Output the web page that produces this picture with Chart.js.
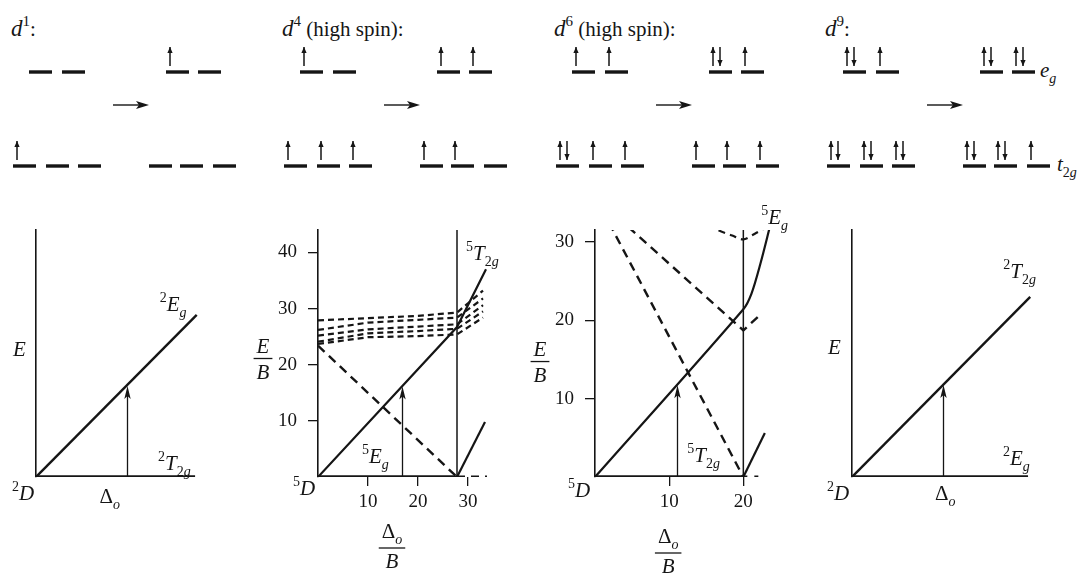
<!DOCTYPE html>
<html>
<head>
<meta charset="utf-8">
<title>Ligand-field transitions</title>
<script src="https://cdn.jsdelivr.net/npm/chart.js@4.4.0/dist/chart.umd.min.js"></script>
<style>
  html, body { margin: 0; padding: 0; background: #fff; }
  #page { position: relative; width: 1085px; height: 575px; overflow: hidden; }
  #page canvas, #page svg { position: absolute; left: 0; top: 0; }
</style>
</head>
<body>
<div id="page">
  <svg id="orbitals" width="1085" height="200"></svg>
  <canvas id="d1" width="1085" height="575"></canvas>
  <canvas id="d4" width="1085" height="575"></canvas>
  <canvas id="d6" width="1085" height="575"></canvas>
  <canvas id="d9" width="1085" height="575"></canvas>
</div>
<script>
// ---------------------------------------------------------------
// DATA
// orbital occupancy: 0 = empty, 1 = one spin up, 2 = paired
const d1EgGround = [0, 0], d1T2gGround = [1, 0, 0], d1EgExcited = [1, 0], d1T2gExcited = [0, 0, 0];
const d4EgGround = [1, 0], d4T2gGround = [1, 1, 1], d4EgExcited = [1, 1], d4T2gExcited = [1, 1, 0];
const d6EgGround = [1, 1], d6T2gGround = [2, 1, 1], d6EgExcited = [2, 1], d6T2gExcited = [1, 1, 1];
const d9EgGround = [2, 1], d9T2gGround = [2, 2, 2], d9EgExcited = [2, 2], d9T2gExcited = [2, 2, 1];
const electronCounts = ['1', '4', '6', '9'];
const spinNotes = ['', '(high spin)', '(high spin)', ''];

// d1 : energy vs Δo (no numeric scale)
const d1Ground = [[0, 0], [9.7, 0]];
const d1Upper = [[0, 0], [9.8, 6.56]];
const d1Transition = [5.55, 3.68];

// d4 high spin : E/B vs Δo/B
const d4Ground = [[0, 0], [27.8, 0]];
const d4GroundBeyond = [[27.8, 0], [33.8, 0]];
const d4Upper = [[0, 0], [27.8, 26.7], [33.6, 37]];
const d4Lowest = [[27.8, 0], [33.4, 9.8]];
const d4Falling = [[0, 23.4], [27.8, 0]];
const d4BandA = [[0, 27.9], [10, 28.3], [20, 28.7], [27.8, 29.3], [33, 33.2]];
const d4BandB = [[0, 26.2], [10, 27.5], [20, 28.0], [27.8, 28.4], [33, 31.8]];
const d4BandC = [[0, 25.2], [10, 26.3], [20, 26.8], [27.8, 27.2], [33, 30.6]];
const d4BandD = [[0, 24.1], [10, 25.6], [20, 26.0], [27.8, 26.4], [33, 29.5]];
const d4BandE = [[0, 23.7], [10, 24.9], [20, 25.1], [27.8, 25.4], [33, 28.4]];
const d4Critical = 27.8;
const d4Transition = [16.8, 16.1];
const d4XTicks = [10, 20, 30];
const d4YTicks = [10, 20, 30, 40];

// d6 high spin : E/B vs Δo/B
const d6Ground = [[0, 0], [20, 0]];
const d6GroundBeyond = [[20, 0], [22.2, 0]];
const d6Upper = [[0, 0], [20, 21.4], [21.1, 23.4], [22.3, 27.2], [23.6, 32]];
const d6Lowest = [[20, 0], [22.9, 5.6]];
const d6FallingA = [[0, 35.8], [20, 0]];
const d6FallingB = [[0, 35.7], [20, 18.7], [22.4, 20.8]];
const d6FallingC = [[14, 33.2], [16.6, 31.5], [18.5, 30.8], [20, 30.3], [21.5, 31], [23, 31.8]];
const d6Critical = 20;
const d6Transition = [11, 11.7];
const d6XTicks = [10, 20];
const d6YTicks = [10, 20, 30];

// d9 : energy vs Δo (no numeric scale)
const d9Ground = [[0, 0], [9.78, 0]];
const d9Upper = [[0, 0], [9.9, 7.29]];
const d9Transition = [5.06, 3.72];

// ---------------------------------------------------------------
// STYLE
const INK = '#151515';
const SERIF = '"Liberation Serif", "Times New Roman", Times, serif';
const BIG = 21;
const SMALL = 14;

// ---------------------------------------------------------------
// ORBITAL FILLING ROW (svg)
const SVGNS = 'http://www.w3.org/2000/svg';
const svg = document.getElementById('orbitals');
const panelShift = [0, 271, 543, 814];
const egGroundX = [29, 62], egExcitedX = [166, 198];
const t2gGroundX = [13, 46, 78], t2gExcitedX = [149, 180, 213];
const EG_Y = 72, T2G_Y = 166, SLOT_W = 23;
let layer = svg;

function el(tag, attrs, parent) {
  const n = document.createElementNS(SVGNS, tag);
  for (const k in attrs) n.setAttribute(k, attrs[k]);
  (parent || layer).appendChild(n);
  return n;
}

function span(parent, attrs, text) {
  const n = el('tspan', attrs, parent);
  n.textContent = text;
  return n;
}

function spin(x, yDash, up) {
  const top = yDash - 25, bottom = yDash - 6;
  el('line', { x1: x, y1: top, x2: x, y2: bottom, stroke: INK, 'stroke-width': 1.5 });
  const tip = up ? top : bottom;
  const s = up ? 1 : -1;
  el('polygon', { points: `${x - 2.6},${tip + 6 * s} ${x},${tip} ${x + 2.6},${tip + 6 * s}`, fill: INK });
}

function slots(xs, y, occ) {
  xs.forEach((x, i) => {
    el('rect', { x, y: y - 1.7, width: SLOT_W, height: 3.4, fill: INK });
    if (occ[i] === 1) spin(x + 4, y, true);
    if (occ[i] === 2) { spin(x + 4, y, true); spin(x + 11, y, false); }
  });
}

const fillings = [
  [d1EgGround, d1T2gGround, d1EgExcited, d1T2gExcited],
  [d4EgGround, d4T2gGround, d4EgExcited, d4T2gExcited],
  [d6EgGround, d6T2gGround, d6EgExcited, d6T2gExcited],
  [d9EgGround, d9T2gGround, d9EgExcited, d9T2gExcited],
];

fillings.forEach(([egG, t2gG, egE, t2gE], p) => {
  layer = el('g', { transform: `translate(${panelShift[p]},0)` }, svg);
  const t = el('text', { x: 11, y: 36, fill: INK, 'font-family': SERIF, 'font-size': 21 });
  span(t, { 'font-style': 'italic', 'font-size': 23 }, 'd');
  span(t, { dy: -10, 'font-size': 15 }, electronCounts[p]);
  span(t, { dy: 10 }, (spinNotes[p] ? '\u00a0' + spinNotes[p] : '') + ':');
  slots(egGroundX, EG_Y, egG);
  slots(t2gGroundX, T2G_Y, t2gG);
  slots(egExcitedX, EG_Y, egE);
  slots(t2gExcitedX, T2G_Y, t2gE);
  el('line', { x1: 113, y1: 105, x2: 139, y2: 105, stroke: INK, 'stroke-width': 1.4 });
  el('polygon', { points: '136,101 149,105 136,109 139,105', fill: INK });
  layer = svg;
});

// orbital set names on the right
const egName = el('text', { x: 1040, y: 77, fill: INK, 'font-family': SERIF, 'font-size': 21, 'font-style': 'italic' });
span(egName, {}, 'e');
span(egName, { dy: 6, 'font-size': 14 }, 'g');
const t2gName = el('text', { x: 1057, y: 171, fill: INK, 'font-family': SERIF, 'font-size': 21, 'font-style': 'italic' });
span(t2gName, {}, 't');
span(t2gName, { dy: 6, 'font-size': 14, 'font-style': 'normal' }, '2');
span(t2gName, { 'font-size': 14 }, 'g');

// ---------------------------------------------------------------
// TEXT HELPERS (canvas)
function rich(ctx, x, y, parts, dry) {
  let cx = x;
  parts.forEach(([txt, kind]) => {
    const small = kind.startsWith('sup') || kind.startsWith('sub');
    const italic = kind.endsWith('i');
    ctx.font = `${italic ? 'italic ' : ''}${small ? SMALL : BIG}px ${SERIF}`;
    const dy = kind.startsWith('sup') ? -9 : kind.startsWith('sub') ? 6 : 0;
    if (!dry) ctx.fillText(txt, cx, y + dy);
    cx += ctx.measureText(txt).width;
  });
  return cx - x;
}

function fraction(ctx, cx, barY, over, under, overDy) {
  const w1 = rich(ctx, 0, 0, over, true);
  const w2 = rich(ctx, 0, 0, under, true);
  const w = Math.max(w1, w2) + 6;
  rich(ctx, cx - w1 / 2, barY - (overDy || 6), over);
  rich(ctx, cx - w2 / 2, barY + 20, under);
  ctx.lineWidth = 1.3;
  ctx.beginPath();
  ctx.moveTo(cx - w / 2, barY);
  ctx.lineTo(cx + w / 2, barY);
  ctx.stroke();
}

// transition arrow and state labels, anchored on the chart's own scales
function notes(spec) {
  return {
    id: 'notes',
    afterDatasetsDraw(chart) {
      const { ctx } = chart;
      const xs = chart.scales.x, ys = chart.scales.y;
      const px = (v) => xs.getPixelForValue(v);
      const py = (v) => ys.getPixelForValue(v);
      ctx.save();
      ctx.fillStyle = INK;
      ctx.strokeStyle = INK;
      ctx.textBaseline = 'alphabetic';
      ctx.textAlign = 'left';

      const [ax, ay] = spec.arrow;
      const x = Math.round(px(ax)) + 0.5, y0 = py(0), y1 = py(ay);
      ctx.lineWidth = 1.3;
      ctx.beginPath();
      ctx.moveTo(x, y0);
      ctx.lineTo(x, y1 + 8);
      ctx.stroke();
      ctx.beginPath();
      ctx.moveTo(x, y1);
      ctx.lineTo(x - 3.2, y1 + 13);
      ctx.lineTo(x, y1 + 10);
      ctx.lineTo(x + 3.2, y1 + 13);
      ctx.closePath();
      ctx.fill();

      spec.texts.forEach((t) => {
        const tx = px(t.at[0]) + t.dx, ty = py(t.at[1]) + t.dy;
        if (t.under) fraction(ctx, tx, ty, t.parts, t.under, t.overDy);
        else rich(ctx, tx, ty, t.parts);
      });
      ctx.restore();
    },
  };
}

// ---------------------------------------------------------------
// CHARTS
const toXY = (pts) => pts.map(([x, y]) => ({ x, y }));
const solid = (pts, w) => ({
  data: toXY(pts), showLine: true, pointRadius: 0, borderColor: INK,
  borderWidth: w || 2.2, fill: false, borderCapStyle: 'butt', tension: 0,
});
const dashed = (pts, w, dash) => Object.assign(solid(pts, w || 2.2), { borderDash: dash || [7, 5] });

function options(area, xMax, yMax, xTicks, yTicks) {
  const tickFont = { family: SERIF, size: 19 };
  const withTicks = xTicks.length > 0;
  // room kept for tick labels inside each axis box
  const yBox = yTicks.length ? 60 : 0;
  const xBox = withTicks ? 40 : 0;
  return {
    responsive: false,
    animation: false,
    events: [],
    devicePixelRatio: 1,
    layout: {
      padding: { left: area.left - yBox, top: area.top, right: 1085 - area.right, bottom: 575 - area.bottom - xBox },
    },
    plugins: { legend: { display: false }, tooltip: { enabled: false } },
    scales: {
      x: {
        type: 'linear', min: 0, max: xMax, display: withTicks,
        afterFit: (s) => { s.height = xBox; s.paddingLeft = 0; s.paddingRight = 0; },
        afterBuildTicks: (s) => { if (withTicks) s.ticks = xTicks.map((value) => ({ value })); },
        border: { display: false },
        grid: { display: true, drawOnChartArea: false, drawTicks: true, tickLength: 9, color: INK, lineWidth: 1.3 },
        ticks: { color: INK, font: tickFont, padding: 5, maxRotation: 0 },
      },
      y: {
        type: 'linear', min: 0, max: yMax, display: true,
        afterFit: (s) => { s.width = yBox; s.paddingTop = 0; s.paddingBottom = 0; },
        afterBuildTicks: (s) => { s.ticks = yTicks.map((value) => ({ value })); },
        border: { display: true, color: INK, width: 1.6 },
        grid: { display: yTicks.length > 0, drawOnChartArea: false, drawTicks: true, tickLength: 10, color: INK, lineWidth: 1.3 },
        ticks: { display: yTicks.length > 0, color: INK, font: tickFont, padding: 11 },
      },
    },
  };
}

const sup = (t) => [t, 'sup'];
const sub = (t) => [t, 'sub'];
const subi = (t) => [t, 'subi'];
const it = (t) => [t, 'i'];
const rm = (t) => [t, 'r'];

// d1
new Chart(document.getElementById('d1'), {
  type: 'scatter',
  data: { datasets: [solid(d1Ground, 3.6), solid(d1Upper, 2.4)] },
  options: options({ left: 36, right: 200, top: 230, bottom: 477 }, 10, 10, [], []),
  plugins: [notes({
    arrow: d1Transition,
    texts: [
      { at: d1Upper[1], dx: -37, dy: -4, parts: [sup('2'), it('E'), subi('g')] },
      { at: d1Ground[1], dx: -37, dy: -7, parts: [sup('2'), it('T'), sub('2'), subi('g')] },
      { at: [0, 5], dx: -23, dy: 2, parts: [it('E')] },
      { at: [0, 0], dx: -24, dy: 23, parts: [sup('2'), it('D')] },
      { at: [4, 0], dx: -2, dy: 26, parts: [rm('\u0394'), subi('o')] },
    ],
  })],
});

// d4
new Chart(document.getElementById('d4'), {
  type: 'scatter',
  data: {
    datasets: [
      solid(d4Ground, 3.6), dashed(d4GroundBeyond, 3, [8, 6]),
      solid([[d4Critical, 0], [d4Critical, 44]], 1.5),
      solid(d4Upper, 2.2), solid(d4Lowest, 2.2), dashed(d4Falling, 2.4, [9, 6]),
      dashed(d4BandA, 2.2, [6, 4]), dashed(d4BandB, 2.2, [6, 4]), dashed(d4BandC, 2.2, [6, 4]),
      dashed(d4BandD, 2.2, [6, 4]), dashed(d4BandE, 2.2, [6, 4]),
    ],
  },
  options: options({ left: 318, right: 488, top: 230, bottom: 477 }, 34, 44, d4XTicks, d4YTicks),
  plugins: [notes({
    arrow: d4Transition,
    texts: [
      { at: d4Upper[2], dx: -20, dy: -9, parts: [sup('5'), it('T'), sub('2'), subi('g')] },
      { at: [9, 0], dx: -1, dy: -14, parts: [sup('5'), it('E'), subi('g')] },
      { at: [0, 0], dx: -25, dy: 18, parts: [sup('5'), it('D')] },
      { at: [0, 22], dx: -55, dy: 5, parts: [it('E')], under: [it('B')] },
      { at: [15, 0], dx: -1, dy: 71, parts: [rm('\u0394'), subi('o')], under: [it('B')], overDy: 10 },
    ],
  })],
});

// d6
new Chart(document.getElementById('d6'), {
  type: 'scatter',
  data: {
    datasets: [
      solid(d6Ground, 3.6), dashed(d6GroundBeyond, 3, [4, 7]),
      solid([[d6Critical, 0], [d6Critical, 31.5]], 1.5),
      Object.assign(solid(d6Upper, 2.2), { tension: 0.3 }), solid(d6Lowest, 2.2),
      dashed(d6FallingA, 2.4, [9, 6]), dashed(d6FallingB, 2.4, [9, 6]),
      Object.assign(dashed(d6FallingC, 2.2, [7, 5]), { tension: 0.3 }),
    ],
  },
  options: options({ left: 595, right: 773, top: 230, bottom: 477 }, 24, 31.5, d6XTicks, d6YTicks),
  plugins: [notes({
    arrow: d6Transition,
    texts: [
      { at: [23.5, 31.5], dx: -8, dy: -6, parts: [sup('5'), it('E'), subi('g')] },
      { at: [20, 0], dx: -56, dy: -15, parts: [sup('5'), it('T'), sub('2'), subi('g')] },
      { at: [0, 0], dx: -27, dy: 20, parts: [sup('5'), it('D')] },
      { at: [0, 16], dx: -55, dy: 10, parts: [it('E')], under: [it('B')] },
      { at: [10, 0], dx: -1, dy: 76, parts: [rm('\u0394'), subi('o')], under: [it('B')], overDy: 10 },
    ],
  })],
});

// d9
new Chart(document.getElementById('d9'), {
  type: 'scatter',
  data: { datasets: [solid(d9Ground, 3.6), solid(d9Upper, 2.4)] },
  options: options({ left: 852, right: 1032, top: 230, bottom: 477 }, 10, 10, [], []),
  plugins: [notes({
    arrow: d9Transition,
    texts: [
      { at: d9Upper[1], dx: -27, dy: -19, parts: [sup('2'), it('T'), sub('2'), subi('g')] },
      { at: d9Ground[1], dx: -25, dy: -12, parts: [sup('2'), it('E'), subi('g')] },
      { at: [0, 5], dx: -24, dy: 0, parts: [it('E')] },
      { at: [0, 0], dx: -25, dy: 23, parts: [sup('2'), it('D')] },
      { at: [5.06, 0], dx: -8, dy: 23, parts: [rm('\u0394'), subi('o')] },
    ],
  })],
});
</script>
</body>
</html>
